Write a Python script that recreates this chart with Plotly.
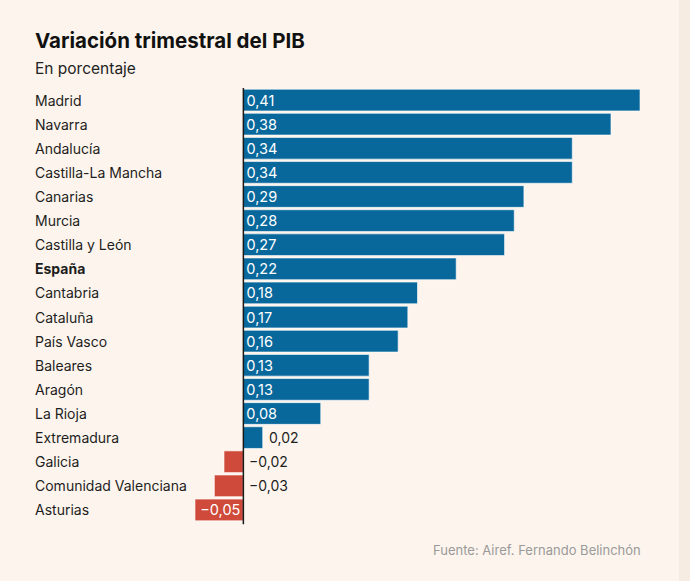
import plotly.graph_objects as go

regions = ["Madrid", "Navarra", "Andalucía", "Castilla-La Mancha", "Canarias", "Murcia",
           "Castilla y León", "España", "Cantabria", "Cataluña", "País Vasco", "Baleares",
           "Aragón", "La Rioja", "Extremadura", "Galicia", "Comunidad Valenciana", "Asturias"]
values = [0.41, 0.38, 0.34, 0.34, 0.29, 0.28, 0.27, 0.22, 0.18, 0.17, 0.16, 0.13,
          0.13, 0.08, 0.02, -0.02, -0.03, -0.05]
highlight = ["España"]

BG = "#fdf5ed"
BLUE = "#08689c"
RED = "#cf4a3a"
FONT = "Inter"

W, H = 690, 581
ML, MR, MT, MB = 195, 50, 88, 59
PW = W - ML - MR
PH = H - MT - MB

def px_x(p):
    return (p - ML) / PW

def px_y(p):
    return 1 - (p - MT) / PH

def fmt(v):
    s = f"{abs(v):.2f}".replace(".", ",")
    return ("−" + s) if v < 0 else s

inside = [abs(v) >= 0.05 for v in values]
colors = [BLUE if v >= 0 else RED for v in values]

fig = go.Figure()
fig.add_trace(go.Bar(
    y=regions, x=values, orientation="h",
    marker=dict(color=colors, line=dict(color="rgba(255,255,255,0.6)", width=1)),
    text=[fmt(v) if ins else "" for v, ins in zip(values, inside)],
    textposition="inside", insidetextanchor="start", constraintext="none",
    textfont=dict(family=FONT, size=14.5, color="white"),
    cliponaxis=False, hoverinfo="skip",
))

annotations = []
for r, v, ins in zip(regions, values, inside):
    if not ins:
        annotations.append(dict(
            x=max(v, 0), y=r, xref="x", yref="y", text=fmt(v), showarrow=False,
            xanchor="left", xshift=4, font=dict(family=FONT, size=14, color="#1e1e1e")))
    label = f"<b>{r}</b>" if r in highlight else r
    annotations.append(dict(
        x=px_x(33), y=r, xref="paper", yref="y", text=label, showarrow=False,
        xanchor="left", font=dict(family=FONT, size=14, color="#1e1e1e")))

annotations.append(dict(x=px_x(33), y=px_y(40), xref="paper", yref="paper",
                        text="<b>Variación trimestral del PIB</b>", showarrow=False,
                        xanchor="left", yanchor="middle",
                        font=dict(family=FONT, size=20.5, color="#111")))
annotations.append(dict(x=px_x(33), y=px_y(69), xref="paper", yref="paper",
                        text="En porcentaje", showarrow=False,
                        xanchor="left", yanchor="middle",
                        font=dict(family=FONT, size=15.5, color="#222")))
annotations.append(dict(x=px_x(643), y=px_y(550), xref="paper", yref="paper",
                        text="Fuente: Airef. Fernando Belinchón", showarrow=False,
                        xanchor="right", yanchor="middle",
                        font=dict(family=FONT, size=13, color="#9a9a9a")))

fig.update_layout(
    width=W, height=H,
    margin=dict(l=ML, r=MR, t=MT, b=MB),
    paper_bgcolor=BG, plot_bgcolor=BG,
    showlegend=False, bargap=0.1,
    xaxis=dict(range=[-0.05, 0.41], visible=False, zeroline=False),
    yaxis=dict(autorange="reversed", visible=False),
    annotations=annotations,
    shapes=[
        dict(type="rect", xref="paper", yref="paper", x0=px_x(679), x1=px_x(W),
             y0=px_y(H), y1=px_y(0), fillcolor="#f6ece2", line=dict(width=0), layer="below"),
        dict(type="line", xref="x", yref="paper", x0=0, x1=0, y0=-0.005, y1=1,
             line=dict(color="#1a1a1a", width=1.5)),
    ],
)

fig.write_html("out.html", config={"displayModeBar": False},
               post_script="document.body.style.margin='0';document.body.style.background='" + BG + "';")
